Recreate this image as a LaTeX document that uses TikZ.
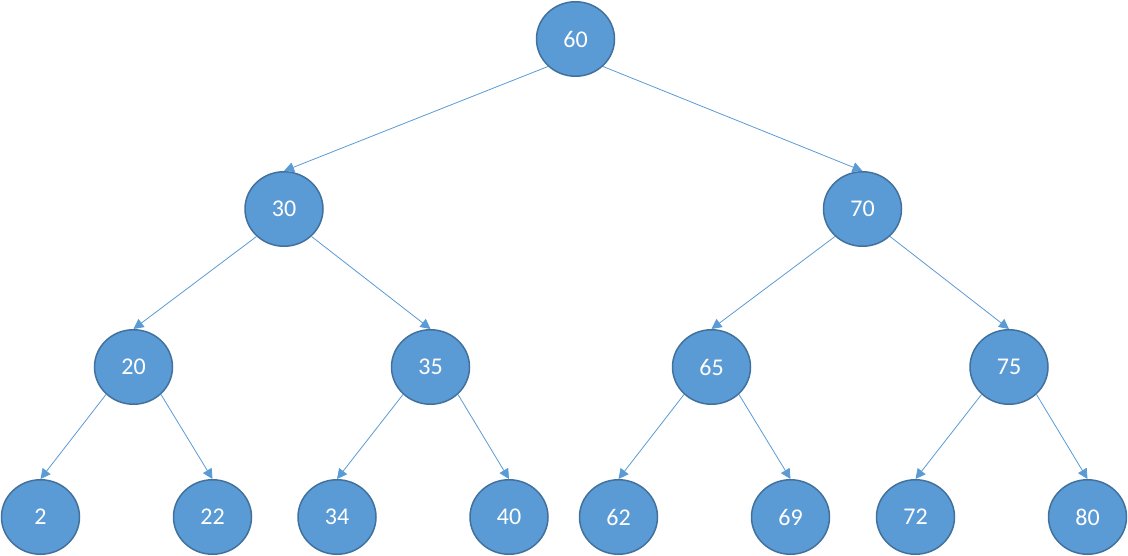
\documentclass[tikz,border=0pt]{standalone}
\usepackage{fontspec}
\setmainfont{Carlito}
\usetikzlibrary{shapes.geometric,arrows.meta}
\definecolor{nodefill}{HTML}{5B9BD5}
\definecolor{nodeborder}{HTML}{41719C}
\definecolor{edgecol}{HTML}{5B9BD5}
\tikzset{
  treenode/.style={ellipse,draw=nodeborder,fill=nodefill,line width=1.5pt,
    minimum width=78pt,minimum height=74.5pt,inner sep=0pt,text=white,
    font=\fontsize{24}{24}\selectfont},
  treeedge/.style={draw=edgecol,line width=0.8pt,-{Triangle[length=10pt,width=10pt]}}
}
\begin{document}
\begin{tikzpicture}[x=1pt,y=-1pt]
\useasboundingbox[fill=white] (0,0) rectangle (1128,556);
\node[treenode] (n60) at (575.5,39) {60};
\node[treenode] (n30) at (284,209) {30};
\node[treenode] (n70) at (862.5,209) {70};
\node[treenode] (n20) at (133.5,367) {20};
\node[treenode] (n35) at (430.5,367) {35};
\node[treenode] (n65) at (711.5,367) {65};
\node[treenode] (n75) at (1009,367) {75};
\node[treenode] (n2) at (40.5,517) {2};
\node[treenode] (n22) at (212.5,517) {22};
\node[treenode] (n34) at (337,517) {34};
\node[treenode] (n40) at (509,517) {40};
\node[treenode] (n62) at (618.5,517) {62};
\node[treenode] (n69) at (790.5,517) {69};
\node[treenode] (n72) at (915.5,517) {72};
\node[treenode] (n80) at (1087.5,517) {80};
\draw[treeedge] (n60.225) -- (n30.north);
\draw[treeedge] (n60.315) -- (n70.north);
\draw[treeedge] (n30.225) -- (n20.north);
\draw[treeedge] (n30.315) -- (n35.north);
\draw[treeedge] (n70.225) -- (n65.north);
\draw[treeedge] (n70.315) -- (n75.north);
\draw[treeedge] (n20.225) -- (n2.north);
\draw[treeedge] (n20.315) -- (n22.north);
\draw[treeedge] (n35.225) -- (n34.north);
\draw[treeedge] (n35.315) -- (n40.north);
\draw[treeedge] (n65.225) -- (n62.north);
\draw[treeedge] (n65.315) -- (n69.north);
\draw[treeedge] (n75.225) -- (n72.north);
\draw[treeedge] (n75.315) -- (n80.north);
\end{tikzpicture}
\end{document}
